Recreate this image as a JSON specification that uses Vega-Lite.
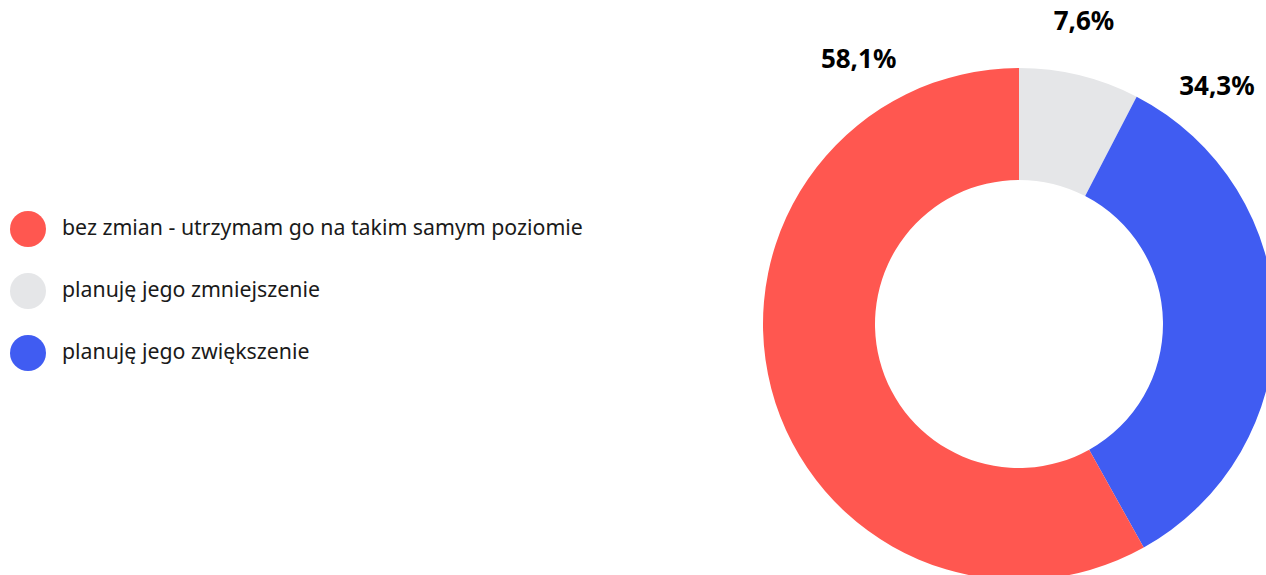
{
  "$schema": "https://vega.github.io/schema/vega-lite/v6.json",
  "autosize": {"type": "none"},
  "padding": {"left": 772, "top": 73, "right": 0, "bottom": 0},
  "width": 494,
  "height": 502,
  "background": "white",
  "data": {
    "values": [
      {"category": "planuję jego zmniejszenie", "value": 7.6, "label": "7,6%"},
      {"category": "planuję jego zwiększenie", "value": 34.3, "label": "34,3%"},
      {"category": "bez zmian - utrzymam go na takim samym poziomie", "value": 58.1, "label": "58,1%"}
    ]
  },
  "layer": [
    {
      "mark": {"type": "arc", "innerRadius": 144, "outerRadius": 256},
      "encoding": {
        "theta": {"field": "value", "type": "quantitative", "stack": true},
        "order": {"field": "value", "type": "quantitative", "sort": "ascending"},
        "color": {
          "field": "category",
          "type": "nominal",
          "scale": {
            "domain": ["bez zmian - utrzymam go na takim samym poziomie", "planuję jego zmniejszenie", "planuję jego zwiększenie"],
            "range": ["#FF5750", "#E5E6E8", "#405CF2"]
          },
          "legend": {
            "title": null,
            "orient": "none",
            "legendX": -762,
            "legendY": 138,
            "symbolType": "circle",
            "symbolSize": 1296,
            "symbolStrokeWidth": 0,
            "symbolOpacity": 1,
            "labelFont": "Noto Sans",
            "labelFontSize": 21.3,
            "labelColor": "#1a1a1a",
            "labelLimit": 1000,
            "labelOffset": 16,
            "rowPadding": 26,
            "padding": 0
          }
        }
      }
    },
    {
      "mark": {"type": "text", "radius": 309, "font": "Noto Sans", "fontWeight": "bold", "fontSize": 26, "fill": "#000000", "align": "center", "baseline": "middle"},
      "encoding": {
        "theta": {"field": "value", "type": "quantitative", "stack": true, "scale": {"range": [-1.2158, 1.0908]}},
        "order": {"field": "category", "type": "nominal", "sort": "ascending"},
        "text": {"field": "label", "type": "nominal"}
      }
    }
  ],
  "resolve": {"scale": {"theta": "independent"}},
  "config": {"view": {"stroke": null}}
}
